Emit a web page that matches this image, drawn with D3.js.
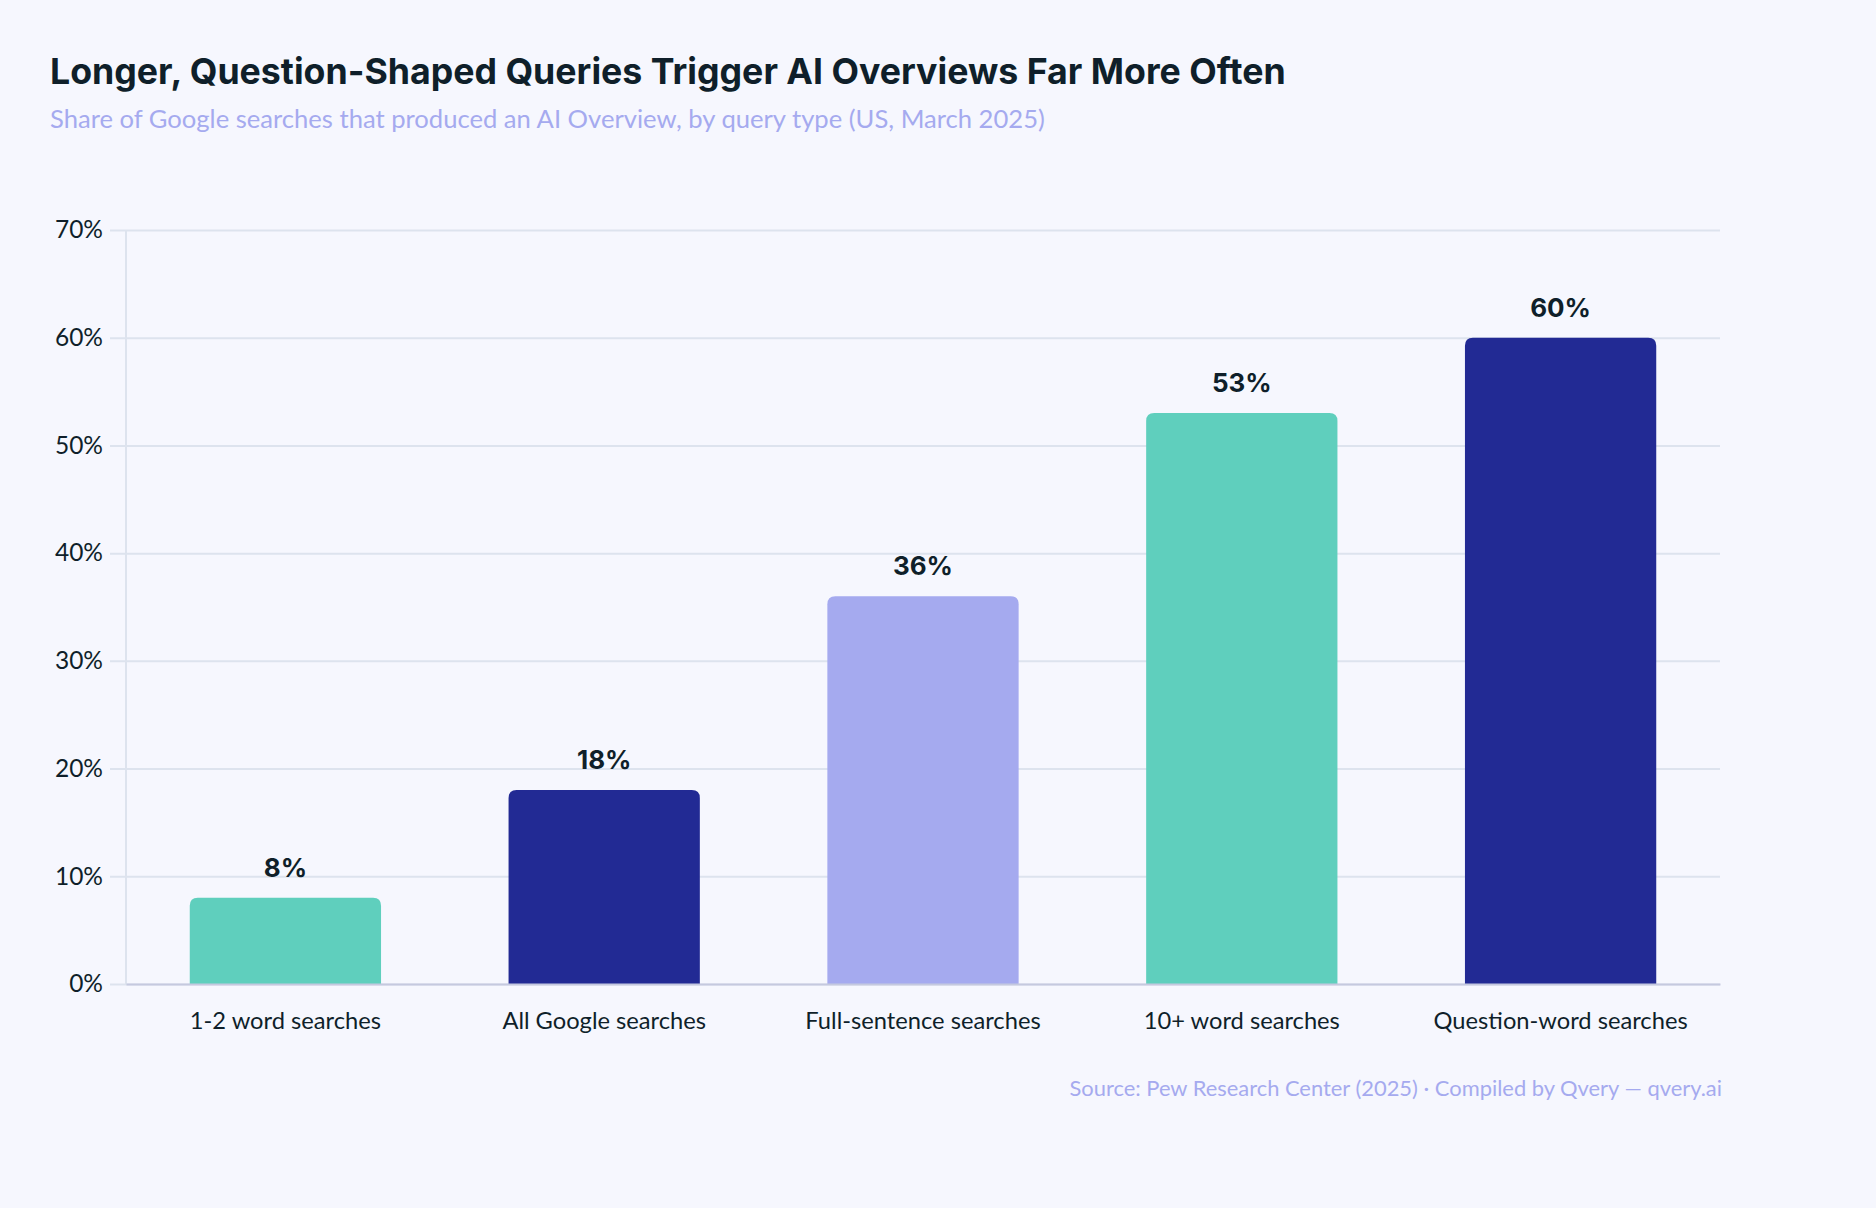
<!DOCTYPE html>
<html>
<head>
<meta charset="utf-8">
<script src="https://cdn.jsdelivr.net/npm/d3@7"></script>
<style>
  html, body { margin: 0; padding: 0; background: #f6f7fe; }
  svg { display: block; }
</style>
</head>
<body>
<svg id="chart"></svg>
<script>
// data
const categories = ["1-2 word searches", "All Google searches", "Full-sentence searches", "10+ word searches", "Question-word searches"];
const values = [8, 18, 36, 53, 60];
const barColors = ["#5fcfbd", "#222a94", "#a5aaef", "#5fcfbd", "#222a94"];
const yTicks = [0, 10, 20, 30, 40, 50, 60, 70];

const width = 1876, height = 1208;
const margin = {top: 230, right: 156, bottom: 224, left: 126};

const svg = d3.select("#chart")
  .attr("width", width)
  .attr("height", height);

svg.append("rect").attr("width", width).attr("height", height).attr("fill", "#f6f7fe");

// title + subtitle
svg.append("text")
  .attr("x", 50).attr("y", 84)
  .attr("font-family", "Inter, 'Noto Sans', sans-serif")
  .attr("font-weight", 700)
  .attr("font-size", 35.7)
  .attr("fill", "#0f1f2a")
  .text("Longer, Question-Shaped Queries Trigger AI Overviews Far More Often");

svg.append("text")
  .attr("x", 50).attr("y", 128)
  .attr("font-family", "Lato, sans-serif")
  .attr("font-size", 25.6)
  .attr("fill", "#a5aaef")
  .text("Share of Google searches that produced an AI Overview, by query type (US, March 2025)");

const x = d3.scaleBand()
  .domain(categories)
  .range([margin.left, width - margin.right])
  .paddingInner(0.4)
  .paddingOuter(0.2);

const y = d3.scaleLinear()
  .domain([0, 70])
  .range([height - margin.bottom, margin.top]);

// gridlines + y labels
const yAxis = svg.append("g")
  .attr("transform", `translate(${margin.left},0)`)
  .call(d3.axisLeft(y)
    .tickValues(yTicks)
    .tickFormat(d => d + "%")
    .tickSize(16)
    .tickPadding(7));
yAxis.select(".domain").remove();
yAxis.selectAll(".tick line")
  .attr("x2", width - margin.right - margin.left)
  .attr("x1", -16)
  .attr("stroke", "#dde3ee")
  .attr("stroke-width", 2);
yAxis.selectAll(".tick text")
  .attr("font-family", "Lato, sans-serif")
  .attr("font-size", 24.5)
  .attr("fill", "#0f1f2a");

// vertical axis line
svg.append("line")
  .attr("x1", margin.left).attr("x2", margin.left)
  .attr("y1", y(70)).attr("y2", y(0))
  .attr("stroke", "#dde3ee")
  .attr("stroke-width", 2);

// bars with rounded tops only
const r = 8;
function barPath(d, i) {
  const x0 = x(categories[i]), w = x.bandwidth();
  const top = y(d), bot = y(0);
  return `M${x0},${bot} V${top + r} Q${x0},${top} ${x0 + r},${top} H${x0 + w - r} Q${x0 + w},${top} ${x0 + w},${top + r} V${bot} Z`;
}

svg.append("g").selectAll("path")
  .data(values)
  .join("path")
  .attr("d", barPath)
  .attr("fill", (d, i) => barColors[i]);

// value labels
svg.append("g").selectAll("text")
  .data(values)
  .join("text")
  .attr("x", (d, i) => x(categories[i]) + x.bandwidth() / 2)
  .attr("y", d => y(d) - 21)
  .attr("text-anchor", "middle")
  .attr("font-family", "Inter, 'Noto Sans', sans-serif")
  .attr("font-weight", 700)
  .attr("font-size", 26)
  .attr("fill", "#0f1f2a")
  .text(d => d + "%");

// x axis
const xAxis = svg.append("g")
  .attr("transform", `translate(0,${y(0)})`)
  .call(d3.axisBottom(x).tickSize(0).tickPadding(28));
xAxis.select(".domain")
  .attr("stroke", "#c5c9df")
  .attr("stroke-width", 2);
xAxis.selectAll(".tick text")
  .attr("font-family", "Lato, sans-serif")
  .attr("font-size", 23.7)
  .attr("fill", "#0f1f2a");

// source note
svg.append("text")
  .attr("x", width - margin.right + 2).attr("y", 1096)
  .attr("text-anchor", "end")
  .attr("font-family", "Lato, sans-serif")
  .attr("font-size", 21.9)
  .attr("fill", "#a5aaef")
  .text("Source: Pew Research Center (2025) · Compiled by Qvery — qvery.ai");
</script>
</body>
</html>
